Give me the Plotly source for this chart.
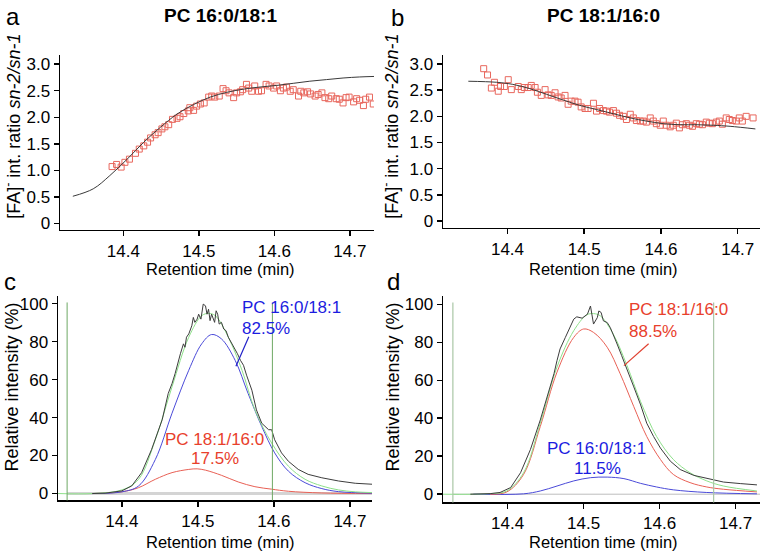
import plotly.graph_objects as go

FONT = "Liberation Sans, Arial, Helvetica, sans-serif"

# ---------------- Panel a: PC 16:0/18:1 ratio ----------------
a_time = [14.385, 14.391, 14.397, 14.402, 14.408, 14.416, 14.421, 14.427, 14.432, 14.436,
          14.442, 14.446, 14.451, 14.455, 14.460, 14.465, 14.471, 14.475, 14.480, 14.486,
          14.488, 14.493, 14.497, 14.502, 14.507, 14.513, 14.517, 14.521, 14.527, 14.532,
          14.536, 14.540, 14.546, 14.550, 14.555, 14.558, 14.563, 14.566, 14.570, 14.574,
          14.579, 14.583, 14.589, 14.593, 14.599, 14.603, 14.608, 14.612, 14.616, 14.621,
          14.625, 14.632, 14.635, 14.639, 14.644, 14.648, 14.654, 14.658, 14.663, 14.667,
          14.672, 14.676, 14.682, 14.686, 14.691, 14.695, 14.699, 14.705, 14.709, 14.713,
          14.718, 14.721, 14.726, 14.731]
a_ratio = [1.07, 1.11, 1.06, 1.15, 1.21, 1.32, 1.40, 1.46, 1.53, 1.61,
           1.67, 1.71, 1.78, 1.82, 1.86, 1.96, 1.98, 2.01, 2.07, 2.12,
           2.18, 2.13, 2.21, 2.25, 2.27, 2.38, 2.40, 2.38, 2.40, 2.54,
           2.50, 2.46, 2.37, 2.46, 2.48, 2.52, 2.62, 2.55, 2.49, 2.59,
           2.49, 2.50, 2.62, 2.59, 2.55, 2.59, 2.50, 2.55, 2.57, 2.49,
           2.52, 2.40, 2.49, 2.46, 2.48, 2.44, 2.40, 2.43, 2.46, 2.37,
           2.35, 2.40, 2.35, 2.34, 2.27, 2.37, 2.38, 2.29, 2.35, 2.32,
           2.22, 2.34, 2.38, 2.25]
a_fit_time = [14.333, 14.360, 14.382, 14.405, 14.427, 14.449, 14.471, 14.493, 14.515, 14.537,
              14.559, 14.581, 14.603, 14.625, 14.647, 14.669, 14.691, 14.713, 14.733]
a_fit = [0.51, 0.65, 0.90, 1.21, 1.53, 1.81, 2.06, 2.24, 2.38, 2.47,
         2.53, 2.57, 2.60, 2.64, 2.68, 2.71, 2.74, 2.76, 2.77]

# ---------------- Panel b: PC 18:1/16:0 ratio ----------------
b_time = [14.369, 14.374, 14.379, 14.383, 14.388, 14.391, 14.396, 14.401, 14.405, 14.414,
          14.418, 14.422, 14.427, 14.431, 14.436, 14.439, 14.444, 14.449, 14.453, 14.457,
          14.462, 14.466, 14.470, 14.475, 14.479, 14.483, 14.488, 14.492, 14.496, 14.501,
          14.505, 14.512, 14.516, 14.520, 14.525, 14.529, 14.533, 14.538, 14.542, 14.546,
          14.551, 14.555, 14.560, 14.564, 14.568, 14.573, 14.577, 14.581, 14.586, 14.590,
          14.594, 14.599, 14.603, 14.607, 14.612, 14.616, 14.620, 14.624, 14.628, 14.633,
          14.637, 14.641, 14.646, 14.650, 14.654, 14.659, 14.663, 14.667, 14.672, 14.676,
          14.680, 14.685, 14.689, 14.693, 14.698, 14.702, 14.706, 14.711, 14.720]
b_ratio = [2.91, 2.79, 2.54, 2.65, 2.48, 2.57, 2.57, 2.70, 2.51, 2.57,
           2.51, 2.55, 2.55, 2.59, 2.55, 2.46, 2.40, 2.51, 2.41, 2.40,
           2.45, 2.37, 2.35, 2.40, 2.23, 2.29, 2.29, 2.27, 2.18, 2.15,
           2.15, 2.25, 2.10, 2.15, 2.11, 2.10, 2.08, 2.11, 2.06, 2.02,
           2.00, 1.94, 2.04, 1.97, 1.92, 1.91, 1.91, 1.89, 1.97, 1.91,
           1.86, 1.83, 1.91, 1.83, 1.80, 1.83, 1.87, 1.78, 1.84, 1.86,
           1.83, 1.81, 1.86, 1.85, 1.84, 1.89, 1.87, 1.86, 1.89, 1.91,
           1.85, 1.97, 1.94, 1.92, 1.91, 1.97, 1.91, 2.00, 1.97]
b_fit_time = [14.349, 14.386, 14.407, 14.429, 14.451, 14.473, 14.494, 14.516, 14.538, 14.560,
              14.581, 14.603, 14.625, 14.647, 14.668, 14.690, 14.723]
b_fit = [2.67, 2.65, 2.61, 2.53, 2.42, 2.31, 2.21, 2.13, 2.05, 1.97,
         1.91, 1.86, 1.84, 1.84, 1.83, 1.81, 1.76]

# ---------------- Panel c: chromatogram, PC 16:0/18:1 standard ----------------
c_raw_time = [14.361, 14.378, 14.400, 14.413, 14.426, 14.439, 14.453, 14.461, 14.466, 14.470,
              14.477, 14.481, 14.483, 14.485, 14.488, 14.492, 14.494, 14.496, 14.499, 14.501,
              14.504, 14.507, 14.510, 14.512, 14.514, 14.516, 14.518, 14.522, 14.524, 14.526,
              14.528, 14.531, 14.534, 14.537, 14.540, 14.545, 14.549, 14.552, 14.556, 14.560,
              14.564, 14.571, 14.577, 14.584, 14.593, 14.597, 14.601, 14.610, 14.619, 14.632,
              14.645, 14.663, 14.685, 14.707, 14.729]
c_raw = [0.0, 0.2, 1.4, 4.0, 11.0, 23.1, 38.8, 52.7, 57.9, 63.1,
         73.6, 78.8, 77.0, 82.3, 84.0, 88.3, 92.7, 90.1, 91.8, 94.4,
         91.8, 99.7, 98.8, 94.4, 97.0, 91.0, 94.4, 90.1, 96.2, 94.4,
         89.2, 90.1, 86.6, 85.7, 82.3, 78.8, 76.2, 73.6, 70.1, 67.5,
         62.3, 54.4, 44.0, 37.0, 33.6, 33.6, 28.3, 21.4, 17.0, 12.7,
         10.1, 8.3, 6.6, 5.4, 4.9]
c_sum_time = [14.316, 14.361, 14.400, 14.422, 14.444, 14.466, 14.488, 14.505, 14.514, 14.523,
              14.540, 14.558, 14.575, 14.597, 14.619, 14.641, 14.663, 14.685, 14.707, 14.729]
c_sum = [0.0, 0.0, 1.9, 7.5, 28.3, 56.2, 82.3, 93.6, 94.8, 93.6,
         82.3, 64.9, 44.0, 26.6, 14.4, 7.5, 4.0, 1.9, 0.9, 0.5]
c_p1_time = [14.361, 14.400, 14.422, 14.444, 14.466, 14.488, 14.505, 14.518, 14.531, 14.549,
             14.566, 14.584, 14.601, 14.619, 14.641, 14.663, 14.685, 14.729]
c_p1 = [0.0, 0.9, 4.0, 17.9, 42.3, 64.9, 78.8, 83.7, 81.4, 70.1,
        52.7, 35.3, 21.4, 11.8, 5.7, 2.6, 1.0, 0.2]
c_p2_time = [14.361, 14.400, 14.422, 14.444, 14.466, 14.488, 14.499, 14.510, 14.531, 14.553,
             14.575, 14.597, 14.619, 14.663, 14.729]
c_p2 = [0.0, 0.9, 3.1, 7.5, 11.0, 12.7, 13.0, 12.3, 9.6, 6.1,
        3.6, 2.3, 1.2, 0.3, 0.0]
c_bounds = [14.328, 14.598]
c_baseline_time = [14.328, 14.729]

# ---------------- Panel d: chromatogram, PC 18:1/16:0 standard ----------------
d_raw_time = [14.351, 14.377, 14.390, 14.404, 14.417, 14.430, 14.443, 14.452, 14.461, 14.465,
              14.469, 14.476, 14.480, 14.487, 14.491, 14.498, 14.505, 14.509, 14.513, 14.518,
              14.520, 14.523, 14.526, 14.531, 14.535, 14.539, 14.544, 14.550, 14.557, 14.566,
              14.575, 14.583, 14.592, 14.601, 14.614, 14.627, 14.645, 14.662, 14.684, 14.706,
              14.728]
d_raw = [0.0, 0.3, 0.9, 3.5, 11.3, 23.5, 39.1, 51.3, 63.5, 70.4,
         76.5, 82.6, 86.1, 92.2, 93.4, 92.7, 94.8, 99.1, 89.6, 93.0,
         96.5, 95.7, 91.3, 90.4, 87.8, 84.3, 79.1, 73.0, 66.1, 56.5,
         47.0, 37.4, 30.4, 24.3, 17.4, 13.0, 9.9, 8.2, 6.4, 5.6,
         4.9]
d_sum_time = [14.315, 14.377, 14.399, 14.421, 14.443, 14.465, 14.487, 14.504, 14.513, 14.522,
              14.539, 14.557, 14.575, 14.596, 14.618, 14.640, 14.662, 14.684, 14.728]
d_sum = [0.0, 0.3, 1.7, 11.3, 37.4, 67.0, 86.1, 94.4, 95.1, 93.9,
         84.3, 67.8, 48.7, 30.4, 18.3, 11.3, 7.0, 4.3, 1.7]
d_p1_time = [14.355, 14.421, 14.443, 14.465, 14.487, 14.509, 14.531, 14.553, 14.575, 14.596,
             14.618, 14.662, 14.728]
d_p1 = [0.0, 0.2, 1.7, 4.3, 7.0, 8.7, 9.0, 8.2, 5.7, 3.8,
        2.3, 0.9, 0.2]
d_p2_time = [14.377, 14.399, 14.421, 14.443, 14.465, 14.487, 14.500, 14.513, 14.531, 14.548,
             14.566, 14.583, 14.601, 14.618, 14.640, 14.662, 14.684, 14.728]
d_p2 = [0.0, 1.2, 10.4, 35.7, 64.3, 82.6, 87.0, 85.2, 77.4, 63.5,
        46.1, 30.4, 18.3, 10.4, 6.1, 3.8, 2.6, 1.2]
d_bounds = [14.328, 14.671]
d_baseline_time = [14.328, 14.732]

# annotation label texts
label_p1 = "PC 16:0/18:1"
label_p2 = "PC 18:1/16:0"
c_pct = ["82.5%", "17.5%"]
d_pct = ["11.5%", "88.5%"]

# tick labels
x_ticks = [14.4, 14.5, 14.6, 14.7]
x_ticktext = ["14.4", "14.5", "14.6", "14.7"]
ratio_ticks = [0, 0.5, 1.0, 1.5, 2.0, 2.5, 3.0]
ratio_ticktext = ["0", "0.5", "1.0", "1.5", "2.0", "2.5", "3.0"]
int_ticks = [0, 20, 40, 60, 80, 100]
int_ticktext = ["0", "20", "40", "60", "80", "100"]

RED_PTS = "#e8675d"
FIT = "#3a3a3a"
RAW = "#3c3c3c"
GREEN = "#8ee08a"
BLUE = "#4a4ad8"
RED = "#e86055"
BLUE_TXT = "#1c1ce0"
RED_TXT = "#e8402c"

fig = go.Figure()

# panel a
fig.add_trace(go.Scatter(x=a_time, y=a_ratio, mode="markers", xaxis="x", yaxis="y",
                         marker=dict(symbol="square-open", size=6, color=RED_PTS, line=dict(width=1))))
fig.add_trace(go.Scatter(x=a_fit_time, y=a_fit, mode="lines", xaxis="x", yaxis="y",
                         line=dict(color=FIT, width=1, shape="spline")))
# panel b
fig.add_trace(go.Scatter(x=b_time, y=b_ratio, mode="markers", xaxis="x2", yaxis="y2",
                         marker=dict(symbol="square-open", size=6, color=RED_PTS, line=dict(width=1))))
fig.add_trace(go.Scatter(x=b_fit_time, y=b_fit, mode="lines", xaxis="x2", yaxis="y2",
                         line=dict(color=FIT, width=1, shape="spline")))
# panel c
fig.add_trace(go.Scatter(x=c_baseline_time, y=[0, 0], mode="lines", xaxis="x3", yaxis="y3",
                         line=dict(color="#d4d4d4", width=3)))
fig.add_trace(go.Scatter(x=c_p2_time, y=c_p2, mode="lines", xaxis="x3", yaxis="y3",
                         line=dict(color=RED, width=1, shape="spline")))
fig.add_trace(go.Scatter(x=c_p1_time, y=c_p1, mode="lines", xaxis="x3", yaxis="y3",
                         line=dict(color=BLUE, width=1, shape="spline")))
fig.add_trace(go.Scatter(x=c_sum_time, y=c_sum, mode="lines", xaxis="x3", yaxis="y3",
                         line=dict(color=GREEN, width=1, shape="spline")))
fig.add_trace(go.Scatter(x=c_raw_time, y=c_raw, mode="lines", xaxis="x3", yaxis="y3",
                         line=dict(color=RAW, width=1)))
# panel d
fig.add_trace(go.Scatter(x=d_baseline_time, y=[0, 0], mode="lines", xaxis="x4", yaxis="y4",
                         line=dict(color="#bdbdbd", width=1)))
fig.add_trace(go.Scatter(x=d_p1_time, y=d_p1, mode="lines", xaxis="x4", yaxis="y4",
                         line=dict(color=BLUE, width=1, shape="spline")))
fig.add_trace(go.Scatter(x=d_p2_time, y=d_p2, mode="lines", xaxis="x4", yaxis="y4",
                         line=dict(color=RED, width=1, shape="spline")))
fig.add_trace(go.Scatter(x=d_sum_time, y=d_sum, mode="lines", xaxis="x4", yaxis="y4",
                         line=dict(color=GREEN, width=1, shape="spline")))
fig.add_trace(go.Scatter(x=d_raw_time, y=d_raw, mode="lines", xaxis="x4", yaxis="y4",
                         line=dict(color=RAW, width=1)))

# full-window figure (the page body margin is removed after drawing)
W, H = 761, 556


def px_x(p):
    return p / W


def px_y(p):
    return 1 - p / H


tickfont = dict(family=FONT, size=17, color="black")


def xaxis(dom, rng, anchor):
    return dict(domain=dom, range=rng, anchor=anchor, showline=True, linecolor="black", linewidth=1.5,
                ticks="outside", ticklen=5, tickwidth=1.5, tickcolor="black", showgrid=False,
                zeroline=False, tickvals=x_ticks, ticktext=x_ticktext, tickfont=tickfont)


def yaxis(dom, rng, anchor, tv, tt):
    return dict(domain=dom, range=rng, anchor=anchor, showline=True, linecolor="black", linewidth=1.5,
                ticks="outside", ticklen=5, tickwidth=1.5, tickcolor="black", showgrid=False,
                zeroline=False, tickvals=tv, ticktext=tt, tickfont=tickfont)


fig.update_layout(
    width=W, height=H, margin=dict(l=0, r=0, t=0, b=0),
    paper_bgcolor="white", plot_bgcolor="white", showlegend=False,
    font=dict(family=FONT, color="black"),
    xaxis=xaxis([px_x(60), px_x(374)], [14.316, 14.732], "y"),
    yaxis=yaxis([px_y(230), px_y(53)], [-0.125, 3.183], "x", ratio_ticks, ratio_ticktext),
    xaxis2=xaxis([px_x(443), px_x(760)], [14.316, 14.729], "y2"),
    yaxis2=yaxis([px_y(228), px_y(53)], [-0.13, 3.18], "x2", ratio_ticks, ratio_ticktext),
    xaxis3=xaxis([px_x(58), px_x(372)], [14.316, 14.729], "y3"),
    yaxis3=yaxis([px_y(503), px_y(297)], [-3.65, 103.8], "x3", int_ticks, int_ticktext),
    xaxis4=xaxis([px_x(443), px_x(760)], [14.315, 14.732], "y4"),
    yaxis4=yaxis([px_y(505), px_y(297)], [-4.35, 104.2], "x4", int_ticks, int_ticktext),
)

shapes = []
for t in c_bounds:
    shapes.append(dict(type="line", xref="x3", yref="y3 domain", x0=t, x1=t, y0=0, y1=0.97,
                       line=dict(color="#6ea864", width=1)))
for t in d_bounds:
    shapes.append(dict(type="line", xref="x4", yref="y4 domain", x0=t, x1=t, y0=0, y1=0.97,
                       line=dict(color="#a9c6a6", width=1.2)))
# pointer lines
shapes.append(dict(type="line", xref="x3", yref="y3", x0=14.567, y0=82.5, x1=14.550, y1=67.0,
                   line=dict(color="#2020c8", width=1.2)))
shapes.append(dict(type="line", xref="x4", yref="y4", x0=14.5855, y0=79.2, x1=14.553, y1=67.7,
                   line=dict(color="#e04030", width=1.2)))
fig.update_layout(shapes=shapes)

ann = []


def paper_text(text, x, y, size, bold=False, angle=0, color="black"):
    if bold:
        text = "<b>" + text + "</b>"
    ann.append(dict(text=text, x=px_x(x), y=px_y(y), xref="paper", yref="paper", showarrow=False,
                    xanchor="center", yanchor="middle", textangle=angle,
                    font=dict(family=FONT, size=size, color=color)))


# panel letters
paper_text("a", 13, 15, 24)
paper_text("b", 397, 16, 24)
paper_text("c", 10, 282, 24)
paper_text("d", 393, 282, 24)
# panel titles
paper_text(label_p1, 220, 14, 19, bold=True)
paper_text(label_p2, 603, 14, 19, bold=True)
# x titles
for (x, y) in [(220, 269), (603, 269), (220, 545), (603, 545)]:
    paper_text("Retention time (min)", x, y, 16.5)
# y titles
ratio_title = "[FA]<sup>-</sup> int. ratio <i>sn-2/sn-1</i>"
paper_text(ratio_title, 13, 126, 18, angle=-90)
paper_text(ratio_title, 391, 126, 18, angle=-90)
paper_text("Relative intensity (%)", 12, 389, 18, angle=-90)
paper_text("Relative intensity (%)", 393, 389, 18, angle=-90)


def data_text(text, ax, x, y, color, anchor):
    ann.append(dict(text=text, x=x, y=y, xref=ax[0], yref=ax[1], showarrow=False,
                    xanchor=anchor, yanchor="middle",
                    font=dict(family=FONT, size=17, color=color)))


data_text(label_p1, ("x3", "y3"), 14.555, 97.9, BLUE_TXT, "left")
data_text(c_pct[0], ("x3", "y3"), 14.555, 87.1, BLUE_TXT, "left")
data_text(label_p2, ("x3", "y3"), 14.522, 28.5, RED_TXT, "center")
data_text(c_pct[1], ("x3", "y3"), 14.522, 18.5, RED_TXT, "center")
data_text(label_p2, ("x4", "y4"), 14.5566, 97.4, RED_TXT, "left")
data_text(d_pct[1], ("x4", "y4"), 14.5566, 85.9, RED_TXT, "left")
data_text(label_p1, ("x4", "y4"), 14.517, 23.8, BLUE_TXT, "center")
data_text(d_pct[0], ("x4", "y4"), 14.518, 13.4, BLUE_TXT, "center")

fig.update_layout(annotations=ann)

fig.write_html("out.html",
               config={"displayModeBar": False, "staticPlot": True},
               post_script="document.body.style.margin='0';document.body.style.overflow='hidden';")
